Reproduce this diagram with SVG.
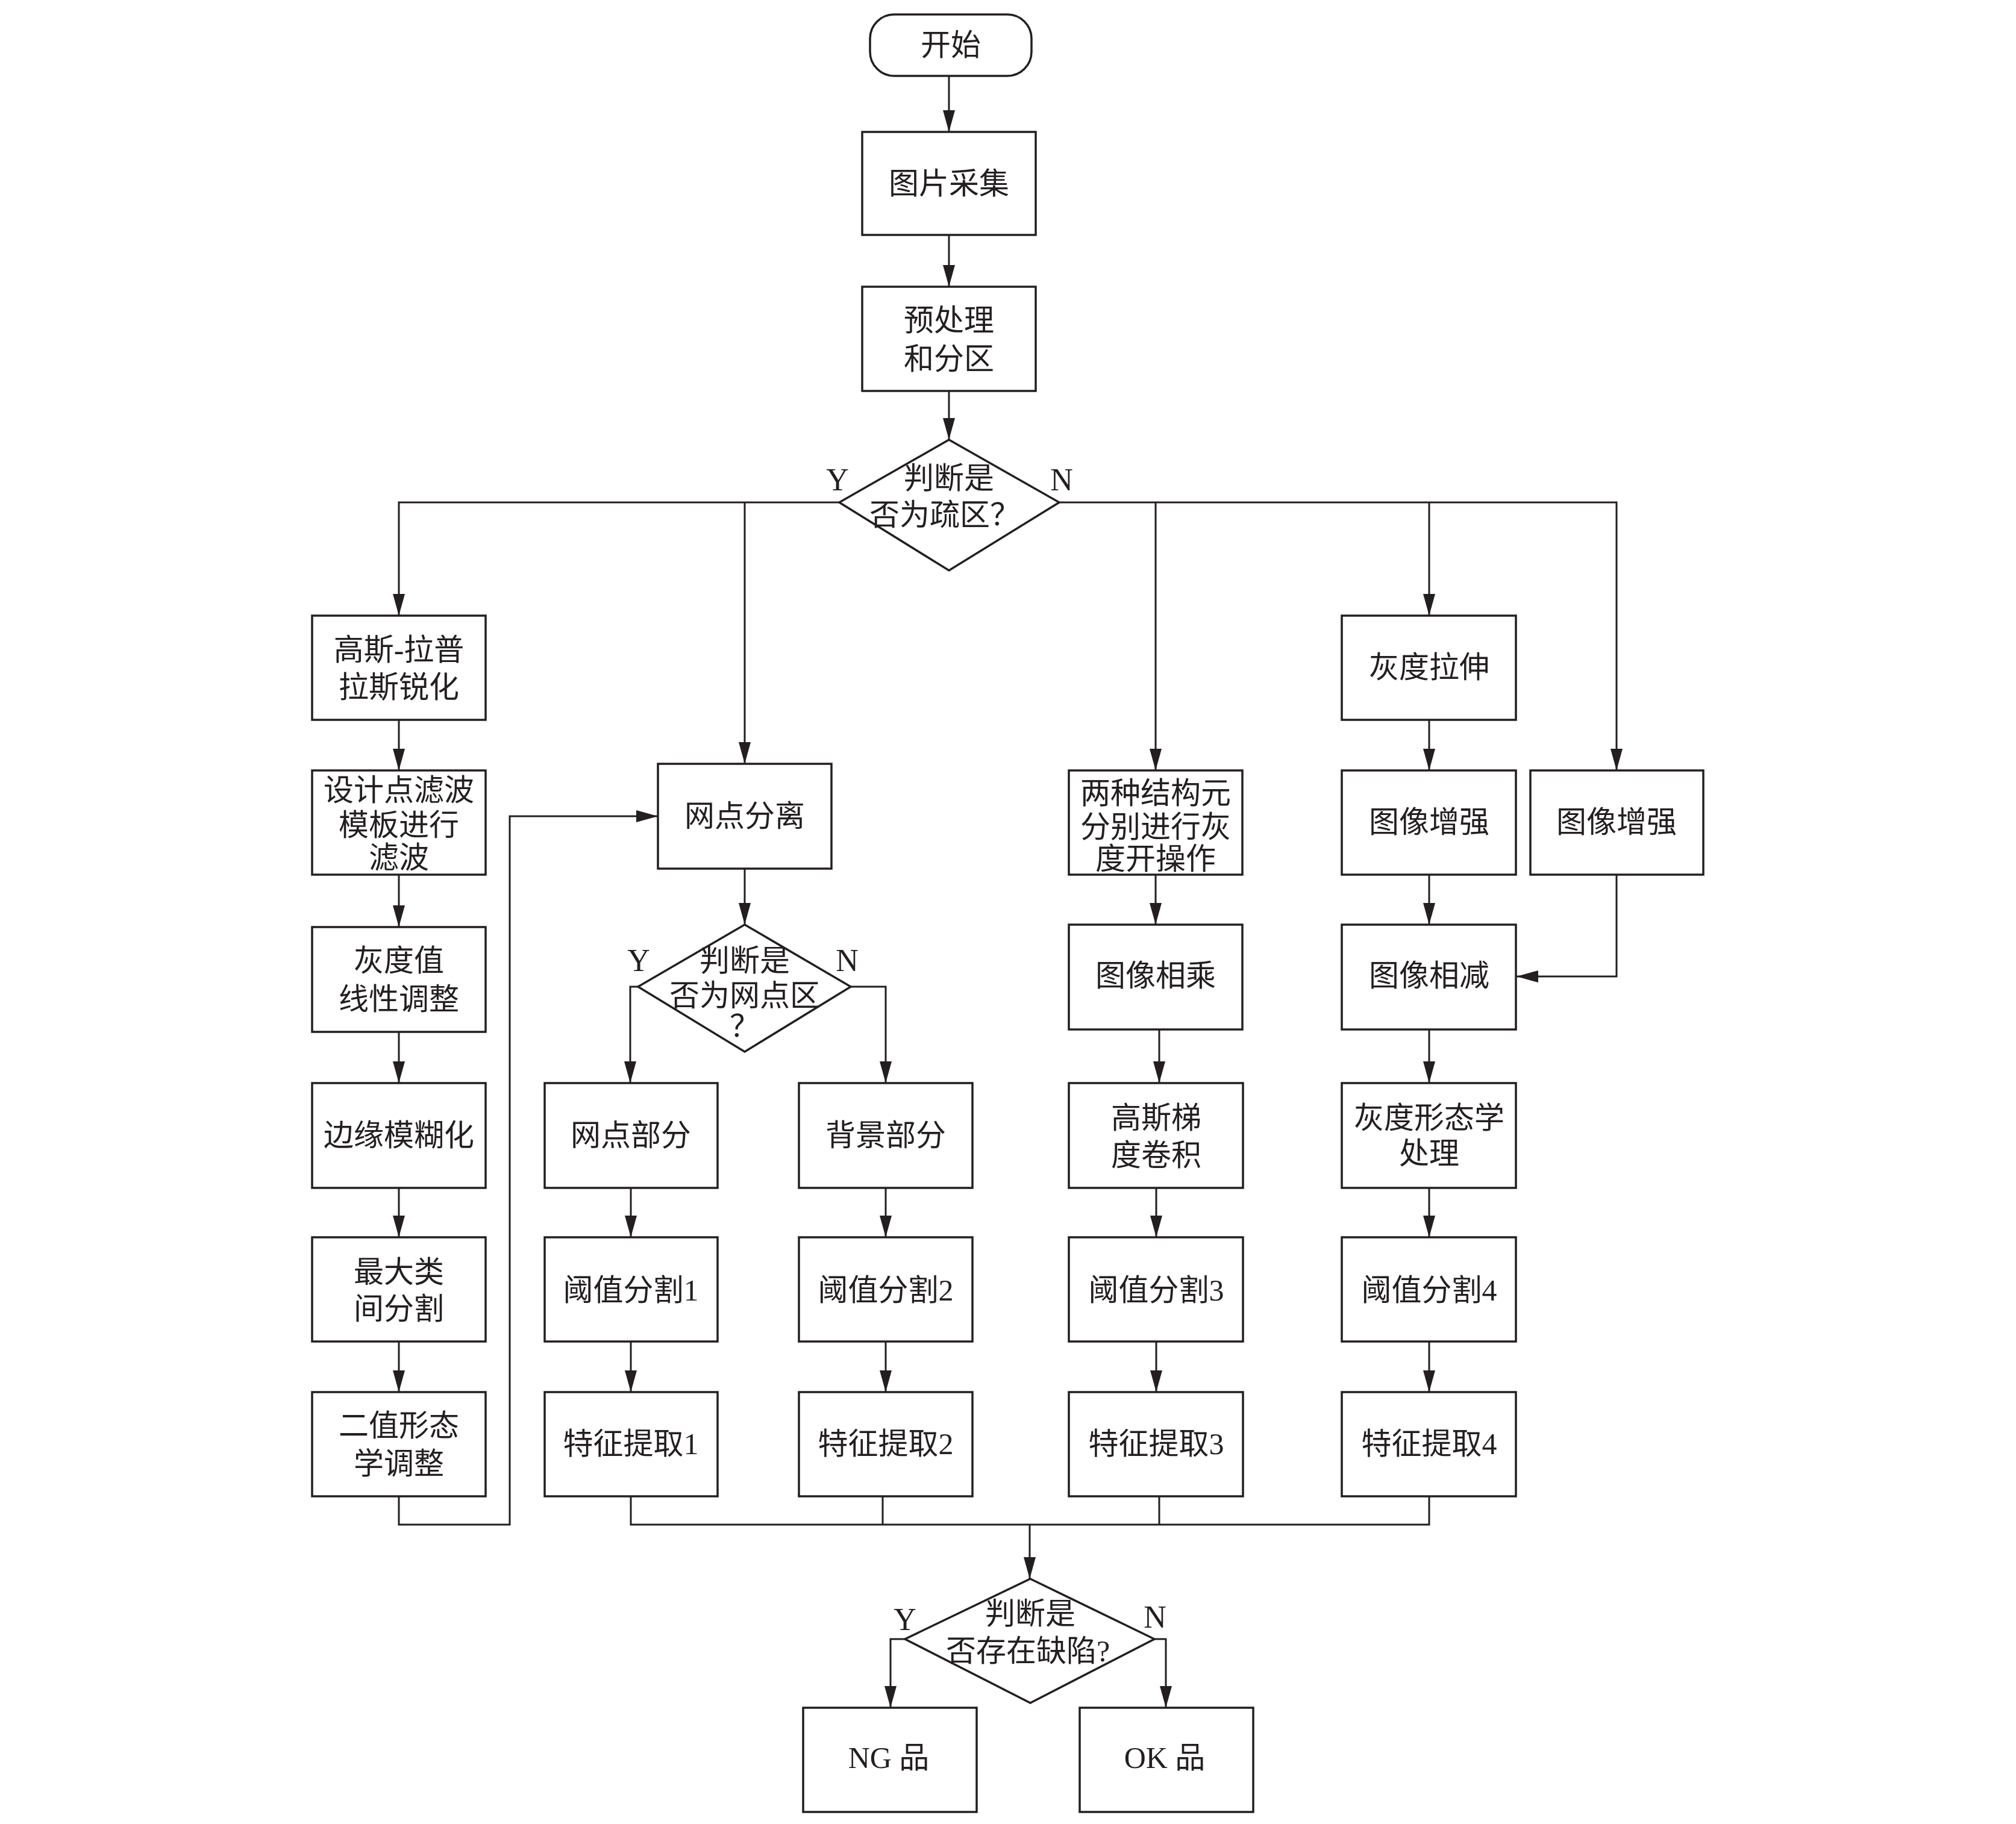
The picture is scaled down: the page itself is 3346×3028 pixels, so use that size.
<svg xmlns="http://www.w3.org/2000/svg" width="3346" height="3028" viewBox="0 0 3346 3028">
<style>
.box{fill:#fff;stroke:#231f20;stroke-width:3.5}
.ln{fill:none;stroke:#231f20;stroke-width:3}
.t{font-family:"Liberation Serif","Noto Sans CJK SC",serif;font-size:50px;fill:#231f20;text-anchor:middle;dominant-baseline:central}
.yn{font-family:"Liberation Serif",serif;font-size:52px;fill:#231f20;text-anchor:middle;dominant-baseline:central}
</style>
<defs>
<marker id="ah" markerUnits="userSpaceOnUse" markerWidth="40" markerHeight="24" refX="36" refY="10" orient="auto">
<path d="M0,0 L36,10 L0,20 Z" fill="#231f20"/>
</marker>
</defs>
<g id="connectors">
<path class="ln" d="M1575 126 V219" marker-end="url(#ah)"/>
<path class="ln" d="M1575 390 V476" marker-end="url(#ah)"/>
<path class="ln" d="M1575 649 V730" marker-end="url(#ah)"/>
<path class="ln" d="M1393 834 H662 V1022" marker-end="url(#ah)"/>
<path class="ln" d="M1236 834 V1268" marker-end="url(#ah)"/>
<path class="ln" d="M1758 834 H2683 V1279" marker-end="url(#ah)"/>
<path class="ln" d="M1918 834 V1279" marker-end="url(#ah)"/>
<path class="ln" d="M2372 834 V1022" marker-end="url(#ah)"/>
<path class="ln" d="M662 1195 V1279" marker-end="url(#ah)"/>
<path class="ln" d="M662 1452 V1539" marker-end="url(#ah)"/>
<path class="ln" d="M662 1713 V1798" marker-end="url(#ah)"/>
<path class="ln" d="M662 1972 V2054" marker-end="url(#ah)"/>
<path class="ln" d="M662 2227 V2311" marker-end="url(#ah)"/>
<path class="ln" d="M662 2484 V2531 H846 V1355 H1092" marker-end="url(#ah)"/>
<path class="ln" d="M1236 1442 V1535" marker-end="url(#ah)"/>
<path class="ln" d="M1059 1638 H1046 V1798" marker-end="url(#ah)"/>
<path class="ln" d="M1412 1638 H1470 V1798" marker-end="url(#ah)"/>
<path class="ln" d="M1047 1972 V2054" marker-end="url(#ah)"/>
<path class="ln" d="M1047 2227 V2311" marker-end="url(#ah)"/>
<path class="ln" d="M1470 1972 V2054" marker-end="url(#ah)"/>
<path class="ln" d="M1470 2227 V2311" marker-end="url(#ah)"/>
<path class="ln" d="M1918 1452 V1535" marker-end="url(#ah)"/>
<path class="ln" d="M1924 1709 V1798" marker-end="url(#ah)"/>
<path class="ln" d="M1919 1972 V2054" marker-end="url(#ah)"/>
<path class="ln" d="M1919 2227 V2311" marker-end="url(#ah)"/>
<path class="ln" d="M2372 1195 V1279" marker-end="url(#ah)"/>
<path class="ln" d="M2372 1452 V1535" marker-end="url(#ah)"/>
<path class="ln" d="M2372 1709 V1798" marker-end="url(#ah)"/>
<path class="ln" d="M2372 1972 V2054" marker-end="url(#ah)"/>
<path class="ln" d="M2372 2227 V2311" marker-end="url(#ah)"/>
<path class="ln" d="M2683 1452 V1621 H2517" marker-end="url(#ah)"/>
<path class="ln" d="M1047 2484 V2531 H2372 V2484"/>
<path class="ln" d="M1465 2484 V2531"/>
<path class="ln" d="M1924 2484 V2531"/>
<path class="ln" d="M1709 2531 V2621" marker-end="url(#ah)"/>
<path class="ln" d="M1502 2721 H1478 V2835" marker-end="url(#ah)"/>
<path class="ln" d="M1916 2721 H1935 V2835" marker-end="url(#ah)"/>
</g>
<g id="labels">
<text class="yn" x="1390" y="796">Y</text>
<text class="yn" x="1762" y="796">N</text>
<text class="yn" x="1060" y="1594">Y</text>
<text class="yn" x="1406" y="1594">N</text>
<text class="yn" x="1502" y="2688">Y</text>
<text class="yn" x="1917" y="2684">N</text>
</g>
<g id="start"><rect class="box" x="1444" y="24" width="268" height="102" rx="40" ry="40"/><text class="t" x="1578" y="75">开始</text></g>
<g id="capture"><rect class="box" x="1431" y="219" width="288" height="171"/><text class="t" x="1575" y="305">图片采集</text></g>
<g id="preprocess"><rect class="box" x="1431" y="476" width="288" height="173"/><text class="t" x="1575" y="532">预处理</text><text class="t" x="1575" y="596">和分区</text></g>
<g id="d1"><polygon class="box" points="1575,730 1758,834 1575,947 1393,834"/><text class="t" x="1575" y="794">判断是</text><text class="t" x="1568" y="855">否为疏区？</text></g>
<g id="sharpen"><rect class="box" x="518" y="1022" width="288" height="173"/><text class="t" x="662" y="1079">高斯-拉普</text><text class="t" x="662" y="1141">拉斯锐化</text></g>
<g id="filter"><rect class="box" x="518" y="1279" width="288" height="173"/><text class="t" x="662" y="1312">设计点滤波</text><text class="t" x="662" y="1370">模板进行</text><text class="t" x="662" y="1424">滤波</text></g>
<g id="linear"><rect class="box" x="518" y="1539" width="288" height="174"/><text class="t" x="662" y="1595">灰度值</text><text class="t" x="662" y="1659">线性调整</text></g>
<g id="blur"><rect class="box" x="518" y="1798" width="288" height="174"/><text class="t" x="662" y="1885">边缘模糊化</text></g>
<g id="otsu"><rect class="box" x="518" y="2054" width="288" height="173"/><text class="t" x="662" y="2112">最大类</text><text class="t" x="662" y="2173">间分割</text></g>
<g id="binmorph"><rect class="box" x="518" y="2311" width="288" height="173"/><text class="t" x="662" y="2367">二值形态</text><text class="t" x="662" y="2430">学调整</text></g>
<g id="sep"><rect class="box" x="1092" y="1268" width="288" height="174"/><text class="t" x="1236" y="1355">网点分离</text></g>
<g id="d2"><polygon class="box" points="1236,1535 1412,1638 1236,1746 1059,1638"/><text class="t" x="1236" y="1595">判断是</text><text class="t" x="1236" y="1653">否为网点区</text><text class="t" x="1236" y="1704">？</text></g>
<g id="dotpart"><rect class="box" x="904" y="1798" width="287" height="174"/><text class="t" x="1047" y="1885">网点部分</text></g>
<g id="th1"><rect class="box" x="904" y="2054" width="287" height="173"/><text class="t" x="1047" y="2142">阈值分割1</text></g>
<g id="fe1"><rect class="box" x="904" y="2311" width="287" height="173"/><text class="t" x="1047" y="2397">特征提取1</text></g>
<g id="bgpart"><rect class="box" x="1326" y="1798" width="288" height="174"/><text class="t" x="1470" y="1885">背景部分</text></g>
<g id="th2"><rect class="box" x="1326" y="2054" width="288" height="173"/><text class="t" x="1470" y="2142">阈值分割2</text></g>
<g id="fe2"><rect class="box" x="1326" y="2311" width="288" height="173"/><text class="t" x="1470" y="2397">特征提取2</text></g>
<g id="opening"><rect class="box" x="1774" y="1279" width="288" height="173"/><text class="t" x="1918" y="1317">两种结构元</text><text class="t" x="1918" y="1373">分别进行灰</text><text class="t" x="1918" y="1426">度开操作</text></g>
<g id="mult"><rect class="box" x="1774" y="1535" width="288" height="174"/><text class="t" x="1918" y="1620">图像相乘</text></g>
<g id="gaussgrad"><rect class="box" x="1774" y="1798" width="289" height="174"/><text class="t" x="1919" y="1856">高斯梯</text><text class="t" x="1919" y="1918">度卷积</text></g>
<g id="th3"><rect class="box" x="1774" y="2054" width="289" height="173"/><text class="t" x="1919" y="2142">阈值分割3</text></g>
<g id="fe3"><rect class="box" x="1774" y="2311" width="289" height="173"/><text class="t" x="1919" y="2397">特征提取3</text></g>
<g id="stretch"><rect class="box" x="2227" y="1022" width="289" height="173"/><text class="t" x="2372" y="1108">灰度拉伸</text></g>
<g id="enh1"><rect class="box" x="2227" y="1279" width="289" height="173"/><text class="t" x="2372" y="1365">图像增强</text></g>
<g id="sub"><rect class="box" x="2227" y="1535" width="289" height="174"/><text class="t" x="2372" y="1620">图像相减</text></g>
<g id="graymorph"><rect class="box" x="2227" y="1798" width="289" height="174"/><text class="t" x="2372" y="1856">灰度形态学</text><text class="t" x="2372" y="1915">处理</text></g>
<g id="th4"><rect class="box" x="2227" y="2054" width="289" height="173"/><text class="t" x="2372" y="2142">阈值分割4</text></g>
<g id="fe4"><rect class="box" x="2227" y="2311" width="289" height="173"/><text class="t" x="2372" y="2397">特征提取4</text></g>
<g id="enh2"><rect class="box" x="2540" y="1279" width="287" height="173"/><text class="t" x="2683" y="1365">图像增强</text></g>
<g id="d3"><polygon class="box" points="1710,2621 1916,2721 1710,2827 1502,2721"/><text class="t" x="1710" y="2679">判断是</text><text class="t" x="1706" y="2741">否存在缺陷?</text></g>
<g id="ng"><rect class="box" x="1333" y="2835" width="288" height="173"/><text class="t" x="1475" y="2918">NG 品</text></g>
<g id="ok"><rect class="box" x="1792" y="2835" width="288" height="173"/><text class="t" x="1933" y="2918">OK 品</text></g>
</svg>
